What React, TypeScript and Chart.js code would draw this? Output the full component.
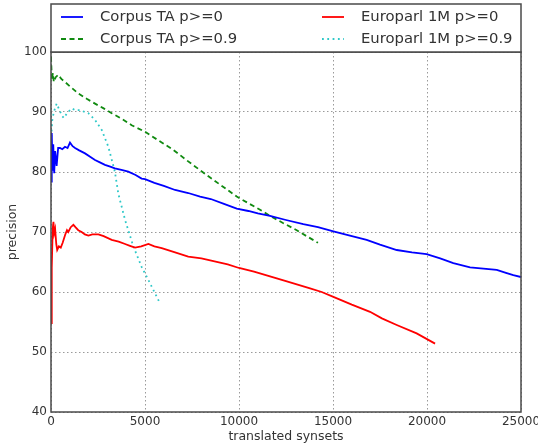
import React, { useEffect, useRef } from 'react';
import { Chart, registerables } from 'chart.js';

Chart.register(...registerables);

const legendLabels = ['Corpus TA p>=0', 'Corpus TA p>=0.9', 'Europarl 1M p>=0', 'Europarl 1M p>=0.9'];
const xTitle = 'translated synsets';
const yTitle = 'precision';

// Corpus TA p>=0 (blue, solid)
const blueX = [0, 40, 80, 120, 170, 220, 300, 380, 480, 600, 745, 880, 1010, 1150, 1280, 1500, 1810, 2100, 2340, 2600, 2870, 3150, 3400, 3800, 4110, 4500, 4820, 5000, 5500, 6000, 6600, 7300, 7930, 8500, 9200, 9880, 10500, 11000, 11650, 12500, 13420, 14200, 15020, 15900, 16790, 17500, 18390, 19200, 19980, 20700, 21400, 22290, 23000, 23710, 24200, 24590, 25000];
const blueY = [78.4, 86.5, 80.2, 84.6, 79.8, 83.5, 81.0, 84.0, 84.0, 83.8, 84.2, 84.0, 84.9, 84.3, 84.0, 83.6, 83.1, 82.5, 82.0, 81.6, 81.2, 80.9, 80.6, 80.3, 80.05, 79.5, 78.9, 78.8, 78.2, 77.7, 77.0, 76.5, 75.9, 75.5, 74.7, 73.9, 73.5, 73.1, 72.7, 72.0, 71.3, 70.8, 70.1, 69.4, 68.7, 67.9, 67.0, 66.6, 66.3, 65.6, 64.8, 64.1, 63.9, 63.7, 63.2, 62.8, 62.5];

// Corpus TA p>=0.9 (green, dashed)
const greenX = [0, 20, 50, 100, 150, 250, 390, 550, 745, 1000, 1450, 1900, 2340, 2800, 3230, 3800, 4290, 5000, 5700, 6500, 7200, 7930, 8500, 9170, 9880, 10500, 11120, 11650, 12340, 13070, 13600, 14040, 14200];
const greenY = [99.2, 97.5, 95.3, 96.5, 95.0, 95.8, 96.2, 95.5, 95.0, 94.3, 93.1, 92.2, 91.4, 90.6, 89.8, 88.8, 87.8, 86.7, 85.3, 83.7, 82.0, 80.3, 79.0, 77.5, 75.9, 74.8, 73.7, 72.7, 71.5, 70.3, 69.3, 68.5, 68.2];

// Europarl 1M p>=0 (red, solid)
const redX = [0, 40, 90, 130, 170, 220, 280, 330, 420, 520, 620, 750, 850, 920, 1050, 1190, 1300, 1450, 1630, 1800, 1990, 2200, 2520, 2800, 3230, 3600, 3940, 4200, 4470, 4800, 5180, 5500, 5890, 6600, 7300, 8000, 8700, 9400, 10000, 10800, 11650, 12500, 13780, 14400, 15020, 16000, 16970, 17600, 18390, 19450, 20430];
const redY = [54.8, 64.0, 70.5, 71.7, 69.8, 70.5, 68.0, 67.0, 67.6, 67.4, 68.2, 69.5, 70.3, 70.0, 70.8, 71.2, 70.8, 70.3, 70.0, 69.6, 69.4, 69.6, 69.6, 69.3, 68.7, 68.4, 68.0, 67.7, 67.4, 67.6, 68.0, 67.6, 67.3, 66.6, 65.9, 65.6, 65.1, 64.6, 64.0, 63.4, 62.6, 61.8, 60.6, 60.0, 59.2, 57.9, 56.7, 55.6, 54.5, 53.1, 51.4];

// Europarl 1M p>=0.9 (cyan, dotted)
const cyanX = [0, 60, 150, 300, 450, 600, 690, 850, 1100, 1300, 1540, 1800, 1990, 2340, 2700, 3050, 3400, 3580, 3940, 4380, 4820, 5180, 5500, 5800];
const cyanY = [85.0, 88.5, 90.0, 91.4, 90.3, 89.3, 89.0, 89.8, 90.6, 90.3, 90.3, 90.0, 89.8, 88.7, 87.0, 84.2, 80.0, 76.4, 72.0, 67.6, 64.2, 62.0, 60.0, 58.1];

const xTicks = { min: 0, max: 25000, step: 5000 };
const yTicks = { min: 40, max: 100, step: 10 };

const toPoints = (xs: number[], ys: number[]) => xs.map((x, i) => ({ x, y: ys[i] }));

const FONT = '"DejaVu Sans", sans-serif';

const legendPlugin = {
  id: 'mplLegendFrame',
  afterDraw(chart: any) {
    const { ctx, chartArea } = chart;
    const { left, right, top, bottom } = chartArea;
    ctx.save();
    ctx.setLineDash([]);
    ctx.strokeStyle = '#4a4a4a';
    ctx.lineWidth = 1.5;
    ctx.strokeRect(left, top, right - left, bottom - top);
    const boxTop = 4;
    ctx.fillStyle = '#ffffff';
    ctx.fillRect(left, boxTop, right - left, top - boxTop);
    ctx.strokeRect(left, boxTop, right - left, top - boxTop);
    chart.data.datasets.forEach((ds: any, i: number) => {
      const col = Math.floor(i / 2);
      const row = i % 2;
      const sx = left + (col === 0 ? 10 : 271);
      const y = boxTop + 13 + row * 22;
      ctx.strokeStyle = ds.borderColor;
      ctx.lineWidth = ds.borderWidth;
      ctx.lineCap = ds.borderCapStyle || 'butt';
      ctx.setLineDash(ds.borderDash || []);
      ctx.beginPath();
      ctx.moveTo(sx, y);
      ctx.lineTo(sx + 22, y);
      ctx.stroke();
      ctx.setLineDash([]);
      ctx.fillStyle = '#333333';
      ctx.font = '14.8px ' + FONT;
      ctx.textBaseline = 'middle';
      ctx.textAlign = 'left';
      ctx.fillText(ds.label, sx + 39, y);
    });
    ctx.restore();
  },
};

export default function App() {
  const canvasRef = useRef<HTMLCanvasElement | null>(null);

  useEffect(() => {
    if (!canvasRef.current) return;
    const chart = new Chart(canvasRef.current, {
      type: 'line',
      data: {
        datasets: [
          {
            label: legendLabels[0],
            data: toPoints(blueX, blueY),
            borderColor: '#0000ff',
            borderWidth: 1.8,
            pointRadius: 0,
            tension: 0,
          },
          {
            label: legendLabels[1],
            data: toPoints(greenX, greenY),
            borderColor: '#108a10',
            borderWidth: 1.8,
            borderDash: [5, 3.5],
            pointRadius: 0,
            tension: 0,
          },
          {
            label: legendLabels[2],
            data: toPoints(redX, redY),
            borderColor: '#ff0000',
            borderWidth: 1.8,
            pointRadius: 0,
            tension: 0,
          },
          {
            label: legendLabels[3],
            data: toPoints(cyanX, cyanY),
            borderColor: '#2ec8c8',
            borderWidth: 1.8,
            borderDash: [1.8, 3.5],
            pointRadius: 0,
            tension: 0,
          },
        ],
      },
      options: {
        animation: false,
        responsive: true,
        maintainAspectRatio: false,
        layout: { padding: { top: 52, right: 17, left: 0, bottom: 0 } },
        plugins: {
          legend: { display: false },
          tooltip: { enabled: false },
        },
        scales: {
          x: {
            type: 'linear',
            min: xTicks.min,
            max: xTicks.max,
            ticks: {
              stepSize: xTicks.step,
              padding: 3,
              color: '#333333',
              font: { family: FONT, size: 12 },
              maxRotation: 0,
              autoSkip: false,
              callback: (v: any) => String(v),
            },
            grid: { color: '#9a9a9a', lineWidth: 1, drawTicks: false },
            border: { display: false, dash: [1.5, 2.5] },
            title: {
              display: true,
              text: xTitle,
              color: '#333333',
              font: { family: FONT, size: 12.5 },
              padding: { top: 0, bottom: 1.5 },
            },
            afterFit: (scale: any) => {
              scale.height = 34;
              scale.paddingLeft = 0;
              scale.paddingRight = 0;
            },
          },
          y: {
            type: 'linear',
            min: yTicks.min,
            max: yTicks.max,
            ticks: {
              stepSize: yTicks.step,
              padding: 4,
              color: '#333333',
              font: { family: FONT, size: 12 },
              callback: (v: any) => String(v),
            },
            grid: { color: '#9a9a9a', lineWidth: 1, drawTicks: false },
            border: { display: false, dash: [1.5, 2.5] },
            title: {
              display: true,
              text: yTitle,
              color: '#333333',
              font: { family: FONT, size: 12.5 },
              padding: { top: 5, bottom: 0 },
            },
            afterFit: (scale: any) => {
              scale.width = 51;
              scale.paddingTop = 0;
              scale.paddingBottom = 0;
            },
          },
        },
      },
      plugins: [legendPlugin],
    });
    return () => chart.destroy();
  }, []);

  return (
    <div style={{ position: 'absolute', left: 0, top: 0, width: 538, height: 446, background: '#ffffff' }}>
      <canvas ref={canvasRef} />
    </div>
  );
}
